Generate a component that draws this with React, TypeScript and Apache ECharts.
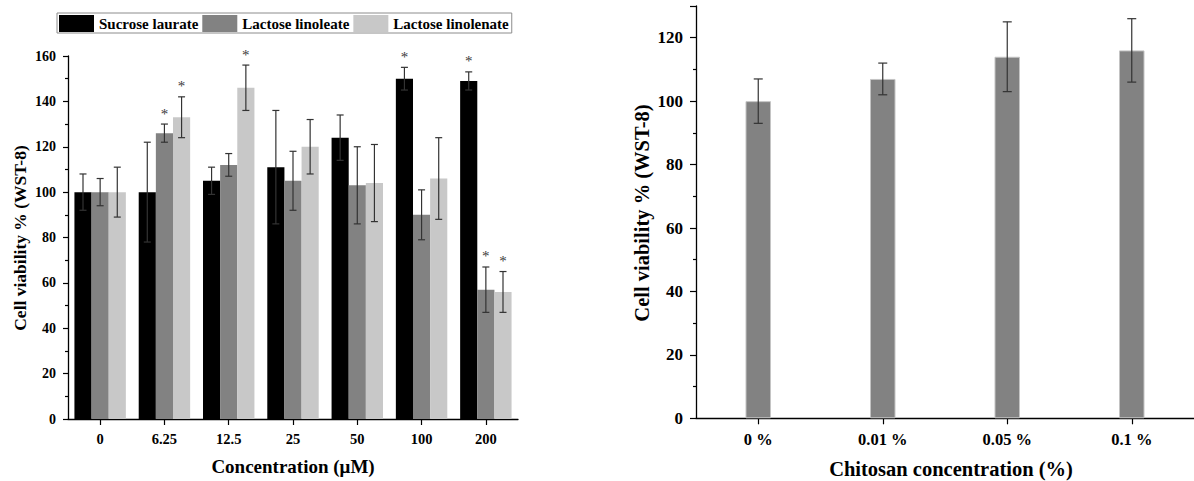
import React, { useEffect, useRef } from "react";
import * as echarts from "echarts";

const categoriesA = ["0", "6.25", "12.5", "25", "50", "100", "200"];
const sucroseLaurate = [100, 100, 105, 111, 124, 150, 149];
const sucroseLaurateErr = [8, 22, 6, 25, 10, 5, 4];
const sucroseLaurateSig = [0, 0, 0, 0, 0, 1, 1];
const lactoseLinoleate = [100, 126, 112, 105, 103, 90, 57];
const lactoseLinoleateErr = [6, 4, 5, 13, 17, 11, 10];
const lactoseLinoleateSig = [0, 1, 0, 0, 0, 0, 1];
const lactoseLinolenate = [100, 133, 146, 120, 104, 106, 56];
const lactoseLinolenateErr = [11, 9, 10, 12, 17, 18, 9];
const lactoseLinolenateSig = [0, 1, 1, 0, 0, 0, 1];

const categoriesB = ["0 %", "0.01 %", "0.05 %", "0.1 %"];
const chitosan = [100, 107, 114, 116];
const chitosanErr = [7, 5, 11, 10];

const yTicksA = { min: 0, max: 160, interval: 20 };
const yTicksB = { min: 0, max: 130, interval: 20 };

const FONT = '"Liberation Serif", "Times New Roman", serif';
const ERR_COLOR = "#333333";

const seriesDefs = [
  { name: "Sucrose laurate", color: "#000000", values: sucroseLaurate, err: sucroseLaurateErr, sig: sucroseLaurateSig },
  { name: "Lactose linoleate", color: "#828282", values: lactoseLinoleate, err: lactoseLinoleateErr, sig: lactoseLinoleateSig },
  { name: "Lactose linolenate", color: "#c8c8c8", values: lactoseLinolenate, err: lactoseLinolenateErr, sig: lactoseLinolenateSig },
];

function makeErrRender(slot: number, nSlots: number, gapFrac: number, centered: boolean, capHalf: number, starSize: number) {
  return (params: any, api: any) => {
    const ci = api.value(0);
    const v = api.value(1);
    const e = api.value(2);
    const s = api.value(3);
    const band = api.size([1, 0])[0];
    let offset = 0;
    if (!centered) {
      const bw = (band * (1 - gapFrac)) / nSlots;
      offset = (slot - (nSlots - 1) / 2) * bw;
    }
    const top = api.coord([ci, v + e]);
    const bot = api.coord([ci, v - e]);
    const x = top[0] + offset;
    const style = { stroke: ERR_COLOR, lineWidth: 1.2, fill: null };
    const children: any[] = [
      { type: "line", shape: { x1: x, y1: top[1], x2: x, y2: bot[1] }, style },
      { type: "line", shape: { x1: x - capHalf, y1: top[1], x2: x + capHalf, y2: top[1] }, style },
      { type: "line", shape: { x1: x - capHalf, y1: bot[1], x2: x + capHalf, y2: bot[1] }, style },
    ];
    if (s) {
      children.push({
        type: "text",
        x: x,
        y: top[1] - 3,
        style: {
          text: "*",
          align: "center",
          verticalAlign: "bottom",
          fontSize: starSize,
          fontFamily: FONT,
          fill: "#3a3a3a",
        },
      });
    }
    return { type: "group", children };
  };
}

export default function App() {
  const ref = useRef<HTMLDivElement>(null);

  useEffect(() => {
    if (!ref.current) return;
    const chart = echarts.init(ref.current, null, { renderer: "svg" });

    const axisLine = { show: true, lineStyle: { color: "#000", width: 1.3 } };

    const barSeriesA = seriesDefs.map((d) => ({
      name: d.name,
      type: "bar",
      xAxisIndex: 0,
      yAxisIndex: 0,
      data: d.values,
      barGap: "0%",
      barCategoryGap: "20%",
      itemStyle: { color: d.color },
      z: 2,
    }));

    const errSeriesA = seriesDefs.map((d, i) => ({
      type: "custom",
      xAxisIndex: 0,
      yAxisIndex: 0,
      z: 3,
      clip: false,
      silent: true,
      itemStyle: { color: ERR_COLOR },
      renderItem: makeErrRender(i, 3, 0.2, false, 3.5, 15),
      data: d.values.map((v, k) => [k, v, d.err[k], d.sig[k]]),
    }));

    const option: any = {
      animation: false,
      backgroundColor: "#ffffff",
      textStyle: { fontFamily: FONT },
      legend: {
        data: seriesDefs.map((d) => d.name),
        left: 57,
        top: 13,
        padding: [2, 3, 1, 2],
        itemWidth: 35,
        itemHeight: 17,
        itemGap: 4,
        icon: "rect",
        borderColor: "#8c8c8c",
        borderWidth: 1,
        textStyle: { fontFamily: FONT, fontWeight: "bold", fontSize: 15, color: "#000" },
      },
      grid: [
        { left: 68, right: 1194 - 518, top: 56, bottom: 481 - 419.5, containLabel: false },
        { left: 696, right: -11, top: 6, bottom: 481 - 418.3, containLabel: false },
      ],
      xAxis: [
        {
          type: "category",
          gridIndex: 0,
          data: categoriesA,
          axisLine,
          axisTick: { show: true, alignWithLabel: true, length: 6, lineStyle: { color: "#000", width: 1.2 } },
          axisLabel: { fontFamily: FONT, fontWeight: "bold", fontSize: 14.5, color: "#000", margin: 12 },
          name: "Concentration (μM)",
          nameLocation: "middle",
          nameGap: 38,
          nameTextStyle: { fontFamily: FONT, fontWeight: "bold", fontSize: 19, color: "#000" },
        },
        {
          type: "category",
          gridIndex: 1,
          data: categoriesB,
          axisLine,
          axisTick: { show: true, alignWithLabel: true, length: 6, lineStyle: { color: "#000", width: 1.2 } },
          axisLabel: { fontFamily: FONT, fontWeight: "bold", fontSize: 16.5, color: "#000", margin: 13 },
        },
      ],
      yAxis: [
        {
          type: "value",
          gridIndex: 0,
          min: yTicksA.min,
          max: yTicksA.max,
          interval: yTicksA.interval,
          axisLine,
          axisTick: { show: true, length: 5, lineStyle: { color: "#000", width: 1.2 } },
          minorTick: { show: true, splitNumber: 2, length: 3, lineStyle: { color: "#000", width: 1.2 } },
          splitLine: { show: false },
          axisLabel: { fontFamily: FONT, fontWeight: "bold", fontSize: 14, color: "#000", margin: 12 },
        },
        {
          type: "value",
          gridIndex: 1,
          min: yTicksB.min,
          max: yTicksB.max,
          interval: yTicksB.interval,
          axisLine,
          axisTick: { show: true, length: 6, lineStyle: { color: "#000", width: 1.2 } },
          minorTick: { show: true, splitNumber: 2, length: 3, lineStyle: { color: "#000", width: 1.2 } },
          splitLine: { show: false },
          axisLabel: { fontFamily: FONT, fontWeight: "bold", fontSize: 17, color: "#000", margin: 13, showMaxLabel: false },
        },
      ],
      graphic: [
        {
          type: "text",
          x: 20,
          y: 238,
          rotation: Math.PI / 2,
          style: {
            text: "Cell viability % (WST-8)",
            fontSize: 17.5,
            fontWeight: "bold",
            fontFamily: FONT,
            fill: "#000",
            align: "center",
            verticalAlign: "middle",
          },
        },
        {
          type: "text",
          x: 642,
          y: 213,
          rotation: Math.PI / 2,
          style: {
            text: "Cell viability % (WST-8)",
            fontSize: 20.5,
            fontWeight: "bold",
            fontFamily: FONT,
            fill: "#000",
            align: "center",
            verticalAlign: "middle",
          },
        },
        {
          type: "text",
          x: 951,
          y: 458,
          style: {
            text: "Chitosan concentration (%)",
            fontSize: 20.5,
            fontWeight: "bold",
            fontFamily: FONT,
            fill: "#000",
            align: "center",
            verticalAlign: "top",
          },
        },
      ],
      series: [
        ...barSeriesA,
        ...errSeriesA,
        {
          name: "Chitosan",
          type: "bar",
          xAxisIndex: 1,
          yAxisIndex: 1,
          data: chitosan,
          barWidth: "20.5%",
          itemStyle: { color: "#828282", borderColor: "#c4c4c4", borderWidth: 1 },
          z: 2,
        },
        {
          type: "custom",
          xAxisIndex: 1,
          yAxisIndex: 1,
          z: 3,
          clip: false,
          silent: true,
          itemStyle: { color: ERR_COLOR },
          renderItem: makeErrRender(0, 1, 0, true, 4.5, 15),
          data: chitosan.map((v, k) => [k, v, chitosanErr[k], 0]),
        },
      ],
    };

    chart.setOption(option);
    return () => chart.dispose();
  }, []);

  return (
    <div
      ref={ref}
      style={{ position: "fixed", left: 0, top: 0, width: 1194, height: 481, background: "#fff" }}
    />
  );
}
